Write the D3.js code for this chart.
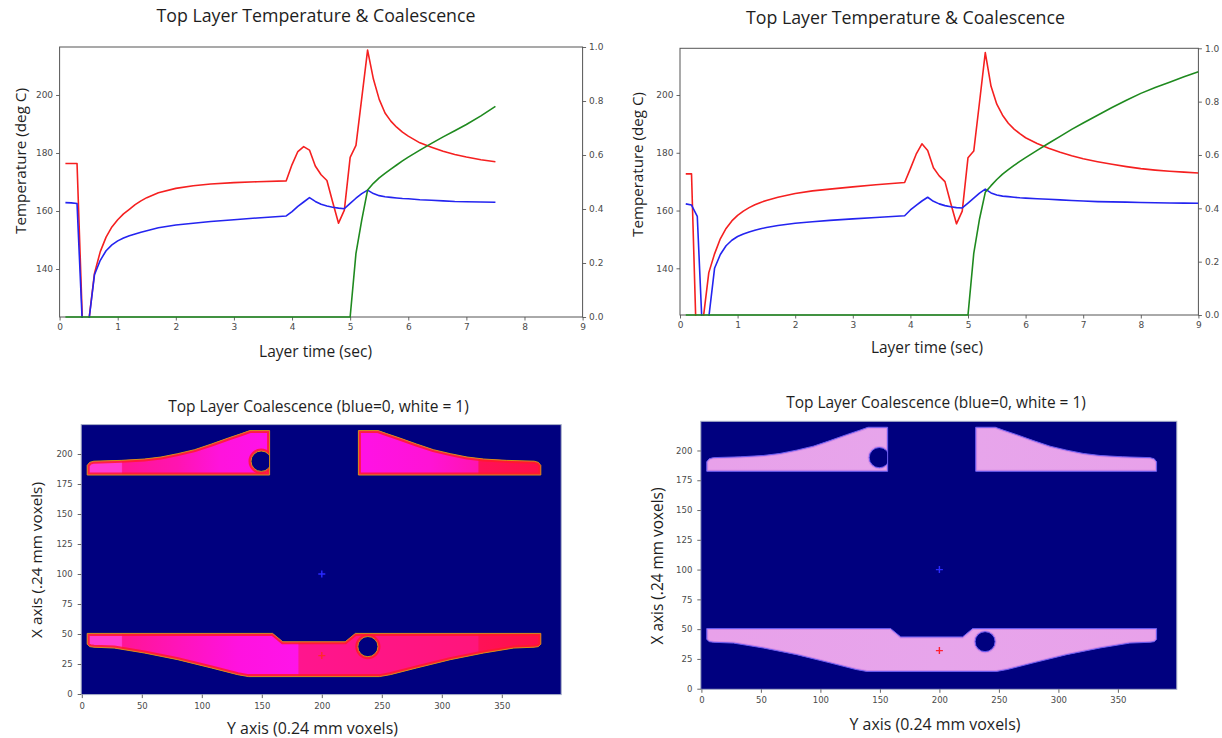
<!DOCTYPE html>
<html>
<head>
<meta charset="utf-8">
<script src="https://cdn.jsdelivr.net/npm/d3@7"></script>
<style>
  body { margin: 0; background: #ffffff; }
  svg { display: block; }
</style>
</head>
<body>
<svg id="fig" width="1222" height="738"></svg>
<script>
// ---------------- Layer time histories ----------------
// Run A (layer time 7.5 s)
const timeA = [0.1,0.2,0.3,0.4,0.5,0.6,0.7,0.8,0.9,1.0,1.1,1.2,1.3,1.4,1.5,
  1.7,2.0,2.3,2.6,3.0,3.4,3.9,
  4.0,4.1,4.2,4.3,4.4,4.5,4.6,4.7,4.8,4.9,
  5.0,5.1,5.2,5.3,5.4,5.5,5.6,5.7,5.8,5.9,
  6.0,6.2,6.4,6.6,6.8,7.0,7.25,7.5];
const peakTempA = [176.4,176.4,176.4,117.5,121.7,138.5,146.0,151.0,154.5,157.0,159.0,160.6,162.2,163.5,164.6,
  166.3,167.8,168.7,169.3,169.8,170.1,170.4,
  176.0,180.5,182.2,181.0,175.5,172.5,170.5,163.0,155.8,160.3,
  178.5,182.6,199.0,215.5,205.5,198.5,193.8,191.0,188.9,187.2,
  185.8,183.5,182.0,180.6,179.5,178.6,177.7,177.0];
const meanTempA = [162.9,162.8,162.6,117.0,121.5,138.0,143.0,146.3,148.3,149.7,150.7,151.5,152.1,152.7,153.2,
  154.2,155.2,155.8,156.4,157.0,157.6,158.3,
  159.8,161.6,163.1,164.6,163.3,162.3,161.7,161.3,161.0,160.8,
  162.6,164.4,166.0,167.2,166.0,165.3,164.9,164.7,164.5,164.3,
  164.2,163.9,163.7,163.5,163.3,163.2,163.1,163.0];
const coalescenceA = [0,0,0,0,0,0,0,0,0,0,0,0,0,0,0,
  0,0,0,0,0,0,0,
  0,0,0,0,0,0,0,0,0,0,
  0,0.236,0.36,0.47,0.495,0.515,0.532,0.548,0.563,0.578,
  0.592,0.618,0.643,0.667,0.69,0.713,0.745,0.78];

// Run B (layer time 9 s)
const timeB = [0.1,0.2,0.3,0.4,0.5,0.6,0.7,0.8,0.9,1.0,1.1,1.2,1.3,1.4,1.5,
  1.7,2.0,2.3,2.6,3.0,3.4,3.9,
  4.0,4.1,4.2,4.3,4.4,4.5,4.6,4.7,4.8,4.9,
  5.0,5.1,5.2,5.3,5.4,5.5,5.6,5.7,5.8,5.9,
  6.0,6.2,6.4,6.6,6.8,7.0,7.25,7.5,7.75,8.0,8.25,8.5,8.75,9.0];
const peakTempB = [172.7,172.7,104.0,122.0,138.5,145.0,150.2,153.8,156.4,158.3,159.8,161.0,162.0,162.8,163.5,
  164.6,165.9,166.8,167.4,168.2,168.9,169.7,
  174.5,179.5,183.1,180.8,174.8,172.0,170.0,162.5,155.4,159.8,
  178.3,180.6,197.5,214.7,203.0,196.8,193.0,190.2,188.2,186.6,
  185.2,183.2,181.6,180.2,179.0,177.9,176.9,176.0,175.2,174.5,174.0,173.6,173.3,173.0];
const meanTempB = [162.3,161.9,158.0,113.0,123.0,140.0,144.8,147.8,149.7,151.0,151.9,152.6,153.2,153.7,154.1,
  154.8,155.6,156.1,156.6,157.1,157.6,158.2,
  160.2,161.8,163.3,164.6,163.2,162.3,161.7,161.3,161.0,160.9,
  162.6,164.3,166.0,167.4,166.1,165.4,165.0,164.8,164.6,164.4,
  164.3,164.1,163.9,163.7,163.5,163.3,163.1,163.0,162.9,162.8,162.7,162.6,162.55,162.5];
const coalescenceB = [0,0,0,0,0,0,0,0,0,0,0,0,0,0,0,
  0,0,0,0,0,0,0,
  0,0,0,0,0,0,0,0,0,0,
  0,0.231,0.36,0.46,0.485,0.508,0.528,0.545,0.561,0.576,
  0.59,0.617,0.644,0.67,0.696,0.72,0.749,0.778,0.805,0.831,0.853,0.873,0.893,0.912];

// Axis ticks
const timeTicks = [0,1,2,3,4,5,6,7,8,9];
const tempTicks = [140,160,180,200];
const coalTicks = [0,0.2,0.4,0.6,0.8,1.0];
const voxelYTicks = [0,50,100,150,200,250,300,350];
const voxelXTicks = [0,25,50,75,100,125,150,175,200];

// ---------------- Top layer part geometry (voxel units: [Y, X]) ----------------
const upperLeftPart = [[4.5,182.5],[156.5,182.5],[156.5,219.5],[140,219.5],[133,217],[122,213.3],
  [108,208.3],[94,203.6],[80,200.3],[66,197.5],[52,195.8],[33,194.7],[10,194],[6.5,193],[4.5,190.5]];
const upperRightPart = [[230.5,182.5],[382.5,182.5],[382.5,190.5],[380.5,193],[377,194],[354,194.7],
  [335,195.8],[321,197.5],[307,200.3],[293,203.6],[279,208.3],[265,213.3],[254,217],[247,219.5],[230.5,219.5]];
const lowerPart = [[4.5,50.5],[159,50.5],[167.5,43.5],[219.5,43.5],[228,50.5],[382.5,50.5],
  [382.5,41.5],[380.5,39.5],[377,39],[360,38.3],[335,34.2],[307,28.6],[279,21.7],[257,16.1],
  [248,14.5],[139,14.5],[130,16.1],[108,21.7],[80,28.6],[52,34.2],[27,38.3],[10,39],[6.5,39.5],[4.5,41.5]];
// holes: [centre Y, centre X, radius]
const upperLeftHole = [149.5,194,8.5];
const lowerHole = [238.4,39.5,8.4];
// probe points: [Y, X]
const probeMean = [200,100];
const probePeak = [200,32];

// Coalescence along the part length: [Y voxel, coalescence]
const coalUpperLeftA = [[4.5,0.908],[33,0.908],[34,0.866],[80,0.874],[115,0.886],[156.5,0.89]];
const coalUpperRightA = [[230.5,0.889],[290,0.884],[330,0.874],[331,0.842],[382.5,0.836]];
const coalLowerA = [[4.5,0.908],[33,0.908],[34,0.866],[80,0.876],[130,0.887],[180,0.891],
  [181,0.864],[330,0.858],[331,0.842],[382.5,0.836]];
const coalUpperLeftB = [[4.5,0.962],[156.5,0.965]];
const coalUpperRightB = [[230.5,0.965],[382.5,0.962]];
const coalLowerB = [[4.5,0.962],[200,0.965],[382.5,0.962]];

// ---------------- drawing ----------------
const svg = d3.select('#fig');
const defs = svg.append('defs');
const LABEL_FONT = '"Open Sans", "Liberation Sans", sans-serif';
const TICK_FONT = '"DejaVu Sans", sans-serif';

function label(txt, x, y, width, rotate) {
  const t = svg.append('text').text(txt)
    .attr('font-family', LABEL_FONT).attr('font-size', 16)
    .attr('fill', '#1e1e1e').attr('text-anchor', 'middle');
  if (rotate) t.attr('transform', `translate(${x},${y}) rotate(-90)`);
  else t.attr('x', x).attr('y', y);
  const w = t.node().getComputedTextLength();
  t.attr('font-size', 16 * width / w);
}

function styleAxis(g, size) {
  g.select('.domain').remove();
  g.selectAll('.tick line').attr('stroke', '#555').attr('stroke-width', 0.9);
  g.selectAll('.tick text').attr('font-family', TICK_FONT).attr('font-size', size).attr('fill', '#4a4a4a');
}

function drawHistory(id, box, tempDomain, times, peak, mean, coal) {
  const x = d3.scaleLinear().domain([0, 9]).range([box.left, box.right]);
  const yT = d3.scaleLinear().domain(tempDomain).range([box.bottom, box.top]);
  const yC = d3.scaleLinear().domain([0, 1]).range([box.bottom, box.top]);

  defs.append('clipPath').attr('id', id)
    .append('rect').attr('x', box.left).attr('y', box.top - 1)
    .attr('width', box.right - box.left).attr('height', box.bottom - box.top + 2);

  const gx = svg.append('g').attr('transform', `translate(0,${box.bottom})`)
    .call(d3.axisBottom(x).tickValues(timeTicks).tickSize(3.5).tickPadding(3).tickFormat(d3.format('d')));
  styleAxis(gx, 9);
  const gl = svg.append('g').attr('transform', `translate(${box.left},0)`)
    .call(d3.axisLeft(yT).tickValues(tempTicks).tickSize(3.5).tickPadding(3).tickFormat(d3.format('d')));
  styleAxis(gl, 9);
  const gr = svg.append('g').attr('transform', `translate(${box.right},0)`)
    .call(d3.axisRight(yC).tickValues(coalTicks).tickSize(3.5).tickPadding(3).tickFormat(d3.format('.1f')));
  styleAxis(gr, 9);

  svg.append('rect').attr('x', box.left).attr('y', box.top)
    .attr('width', box.right - box.left).attr('height', box.bottom - box.top)
    .attr('fill', 'none').attr('stroke', '#555').attr('stroke-width', 1);

  const plot = svg.append('g').attr('clip-path', `url(#${id})`);
  const tempLine = d3.line().x((d, i) => x(times[i])).y(d => yT(d));
  const coalLine = d3.line().x((d, i) => x(times[i])).y(d => yC(d));
  plot.append('path').attr('d', tempLine(peak)).attr('fill', 'none')
    .attr('stroke', '#f52020').attr('stroke-width', 1.6).attr('stroke-linejoin', 'round');
  plot.append('path').attr('d', tempLine(mean)).attr('fill', 'none')
    .attr('stroke', '#2424f0').attr('stroke-width', 1.6).attr('stroke-linejoin', 'round');
  plot.append('path').attr('d', coalLine(coal)).attr('fill', 'none')
    .attr('stroke', '#1f8a1f').attr('stroke-width', 1.6).attr('stroke-linejoin', 'round');
}

// coalescence colour map (0 = navy background, 1 = white)
const coalColor = d3.scaleLinear()
  .domain([0, 0.2, 0.4, 0.55, 0.68, 0.76, 0.82, 0.86, 0.89, 0.91, 0.94, 0.965, 1])
  .range(['#00007f', '#0060ff', '#00d0a0', '#40e000', '#f0e000', '#ff8000',
          '#ff0a24', '#ff1680', '#ff12ea', '#ff40d4', '#f286e6', '#e7a5eb', '#ffffff']);

function drawMap(id, box, parts, look) {
  const x = d3.scaleLinear().domain([-0.5, 399.5]).range([box.left, box.right]);
  const y = d3.scaleLinear().domain([-0.5, 224.5]).range([box.bottom, box.top]);
  const g = svg.append('g');

  g.append('rect').attr('x', x(-0.5)).attr('y', y(224.5))
    .attr('width', x(399.5) - x(-0.5)).attr('height', y(-0.5) - y(224.5))
    .attr('fill', coalColor(0));

  const outline = d3.line().x(d => x(d[0])).y(d => y(d[1])).curve(d3.curveLinearClosed);

  parts.forEach((p, i) => {
    const gid = `${id}-grad-${i}`, cid = `${id}-clip-${i}`;
    const c0 = p.profile[0][0], c1 = p.profile[p.profile.length - 1][0];
    const grad = defs.append('linearGradient').attr('id', gid)
      .attr('gradientUnits', 'userSpaceOnUse')
      .attr('x1', x(c0)).attr('x2', x(c1)).attr('y1', 0).attr('y2', 0);
    p.profile.forEach(([c, v]) => {
      grad.append('stop').attr('offset', (c - c0) / (c1 - c0)).attr('stop-color', coalColor(v));
    });
    defs.append('clipPath').attr('id', cid).append('path').attr('d', outline(p.shape));

    const d = outline(p.shape);
    g.append('path').attr('d', d).attr('fill', `url(#${gid})`);
    g.append('path').attr('d', d).attr('fill', 'none').attr('clip-path', `url(#${cid})`)
      .attr('stroke', look.band).attr('stroke-width', look.bandWidth).attr('stroke-opacity', look.bandOpacity);

    if (p.hole) {
      const [hc, hr, rad] = p.hole;
      const ell = () => g.append('ellipse').attr('cx', x(hc)).attr('cy', y(hr))
        .attr('rx', x(hc + rad) - x(hc)).attr('ry', y(hr) - y(hr + rad))
        .attr('clip-path', `url(#${cid})`);
      ell().attr('fill', 'none').attr('stroke', look.band).attr('stroke-width', look.bandWidth)
        .attr('stroke-opacity', look.bandOpacity);
      ell().attr('fill', coalColor(0)).attr('stroke', look.edge).attr('stroke-width', 1);
    }
    g.append('path').attr('d', d).attr('fill', 'none')
      .attr('stroke', look.edge).attr('stroke-width', 1).attr('stroke-linejoin', 'round');
  });

  // probe markers
  const plus = (pt, colour) => {
    const px = x(pt[0]), py = y(pt[1]);
    g.append('path').attr('d', `M${px - 3.5},${py}H${px + 3.5}M${px},${py - 3.5}V${py + 3.5}`)
      .attr('stroke', colour).attr('stroke-width', 1.4);
  };
  plus(probeMean, '#2a2aff');
  plus(probePeak, look.probe);

  svg.append('rect').attr('x', x(-0.5)).attr('y', y(224.5))
    .attr('width', x(399.5) - x(-0.5)).attr('height', y(-0.5) - y(224.5))
    .attr('fill', 'none').attr('stroke', '#a8b0c8').attr('stroke-width', 1);

  const gx = svg.append('g').attr('transform', `translate(0,${y(-0.5)})`)
    .call(d3.axisBottom(x).tickValues(voxelYTicks).tickSize(3.5).tickPadding(4.5));
  styleAxis(gx, 8.5);
  const gy = svg.append('g').attr('transform', `translate(${x(-0.5)},0)`)
    .call(d3.axisLeft(y).tickValues(voxelXTicks).tickSize(3.5).tickPadding(5));
  styleAxis(gy, 8.5);
}

// ---- top row: temperature & coalescence histories ----
drawHistory('histA', { left: 59.6, right: 582.6, top: 47, bottom: 317 }, [123.45, 216.55],
  timeA, peakTempA, meanTempA, coalescenceA);
drawHistory('histB', { left: 680, right: 1198.4, top: 48.3, bottom: 315 }, [123.83, 216.17],
  timeB, peakTempB, meanTempB, coalescenceB);

label('Top Layer Temperature & Coalescence', 316, 21.5, 319);
label('Top Layer Temperature & Coalescence', 905.5, 24, 319);
label('Layer time (sec)', 315.5, 356.5, 113);
label('Layer time (sec)', 927, 352.5, 112);
label('Temperature (deg C)', 25.5, 161, 146, true);
label('Temperature (deg C)', 642.5, 164.5, 145, true);

// ---- bottom row: top layer coalescence maps ----
drawMap('mapA', { left: 81.2, right: 561.2, top: 424.6, bottom: 694.6 }, [
  { shape: upperLeftPart, profile: coalUpperLeftA, hole: upperLeftHole },
  { shape: upperRightPart, profile: coalUpperRightA },
  { shape: lowerPart, profile: coalLowerA, hole: lowerHole }
], { band: '#ff1a2a', bandWidth: 5, bandOpacity: 0.85, edge: '#d29018', probe: '#ff2a2a' });

drawMap('mapB', { left: 700.8, right: 1176.8, top: 421.3, bottom: 689.3 }, [
  { shape: upperLeftPart, profile: coalUpperLeftB, hole: upperLeftHole },
  { shape: upperRightPart, profile: coalUpperRightB },
  { shape: lowerPart, profile: coalLowerB, hole: lowerHole }
], { band: '#c070e0', bandWidth: 3, bandOpacity: 0.45, edge: '#6a5cf0', probe: '#ff2030' });

label('Top Layer Coalescence (blue=0, white = 1)', 318.5, 412, 301);
label('Top Layer Coalescence (blue=0, white = 1)', 936, 408, 300);
label('Y axis  (0.24 mm voxels)', 312.5, 733.5, 171);
label('Y axis  (0.24 mm voxels)', 935, 729.5, 171);
label('X axis (.24 mm voxels)', 41.5, 560, 156, true);
label('X axis (.24 mm voxels)', 662.5, 566, 157, true);
</script>
</body>
</html>
